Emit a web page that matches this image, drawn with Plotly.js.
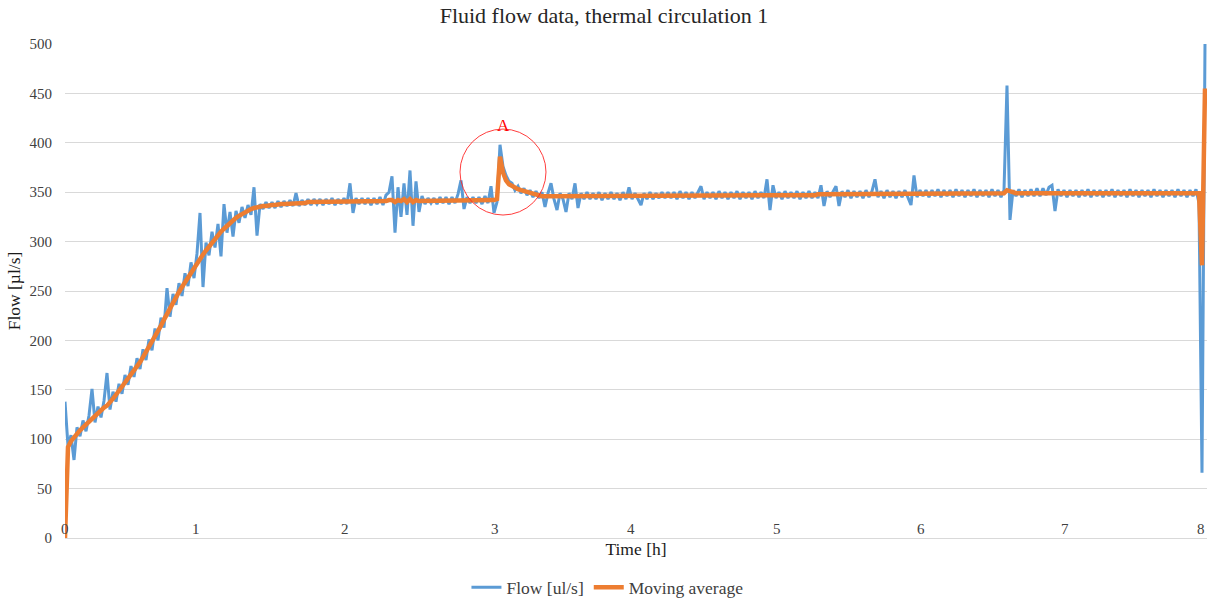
<!DOCTYPE html>
<html><head><meta charset="utf-8">
<script src="https://cdn.plot.ly/plotly-3.0.1.min.js"></script>
<style>html,body{margin:0;padding:0;background:#fff}#chart{width:1208px;height:603px}</style>
</head><body><div id="chart"></div>
<script>
// Whole-hour tick labels and the sample index at which each hour falls
const hourLabels = ['0','1','2','3','4','5','6','7','8'];
const hourSample = [0, 43.67, 93.33, 143.33, 188.67, 237.33, 285.33, 333.33, 378.67];

// Flow [ul/s], one value per sample
const flow = [
138,93,104,79,112,103,119,108,124,151,
117,133,122,139,167,130,148,138,156,146,
165,155,174,163,182,171,191,180,201,190,
212,200,223,213,253,224,247,236,258,245,
268,255,279,263,288,329,254,299,286,310,
294,318,285,338,309,330,305,331,319,335,
324,337,327,355,306,338,333,340,334,340,
334,341,335,341,336,342,336,349,336,342,
337,343,337,343,338,343,337,343,338,344,
337,343,338,344,338,359,329,344,338,344,
338,344,337,344,338,345,337,347,350,366,
309,355,325,359,327,372,316,361,330,346,
338,344,339,344,338,345,339,345,338,345,
339,348,362,333,345,339,345,339,345,338,
346,339,356,329,340,398,376,367,361,359,
352,356,349,354,347,352,345,351,344,350,
335,349,359,343,332,349,343,330,349,343,
359,334,349,343,350,343,349,343,350,342,
349,343,350,343,349,342,350,343,355,343,
349,343,337,349,343,350,343,349,344,350,
344,350,344,350,343,351,344,350,343,350,
344,350,356,343,350,344,350,343,351,344,
350,343,350,344,351,343,350,344,350,343,
351,344,350,344,363,332,357,344,350,343,
351,344,350,344,351,343,350,344,351,344,
350,344,357,336,351,345,351,356,336,351,
345,352,344,351,345,351,344,352,345,351,
363,345,351,344,352,345,351,344,351,345,
352,345,337,367,345,352,346,352,345,352,
346,353,345,352,346,352,345,353,346,352,
345,352,346,353,345,352,346,352,345,353,
346,352,345,352,458,322,352,346,353,345,
352,346,353,346,354,346,354,347,355,357,
331,353,346,352,345,352,346,352,345,352,
346,353,345,352,346,352,345,352,346,353,
345,352,346,352,345,353,346,352,345,352,
346,352,345,353,346,352,345,352,346,352,
345,353,346,352,345,352,346,353,339,66,
500
];

// Moving average, one value per sample
const movingAverage = [
0,92,98,102,106,109,112,115,118,121,
124,127,129,132,134,137,141,145,149,153,
157,162,166,170,174,178,183,188,193,198,
203,209,215,221,227,232,238,244,249,254,
259,264,269,273,278,282,287,291,295,299,
303,307,310,313,316,319,321,324,326,328,
330,331,333,334,335,335,336,336,337,337,
337,338,338,338,338,339,339,339,339,339,
339,340,340,340,340,340,340,340,340,340,
340,340,340,340,341,341,341,341,341,341,
341,341,341,341,341,341,341,341,342,342,
340,342,341,343,340,343,340,342,341,341,
341,341,341,341,341,342,342,342,342,342,
342,342,342,342,342,342,342,342,342,342,
342,342,342,342,343,386,370,362,358,356,
354,353,352,351,350,349,348,347,347,346,
346,346,346,346,346,346,346,346,346,346,
346,346,346,346,346,346,346,346,346,346,
346,346,346,346,346,346,346,346,346,346,
346,346,346,346,346,346,346,346,346,346,
347,347,347,347,347,347,347,347,347,347,
347,347,347,347,347,347,347,347,347,347,
347,347,347,347,347,347,347,347,347,347,
347,347,347,347,347,347,347,347,347,347,
347,347,347,347,347,347,347,347,347,347,
347,348,348,348,348,348,348,348,348,348,
348,348,348,348,348,348,348,348,348,348,
348,348,348,348,348,348,348,348,348,348,
348,349,349,349,349,349,349,349,349,349,
349,349,349,349,349,349,349,349,349,349,
349,349,349,349,349,349,349,349,349,349,
349,349,349,349,352,351,349,349,349,349,
349,349,349,349,349,349,349,349,349,349,
349,349,349,349,349,349,349,349,349,349,
349,349,349,349,349,349,349,349,349,349,
349,349,349,349,349,349,349,349,349,349,
349,349,349,349,349,349,349,349,349,349,
349,349,349,349,349,349,349,349,349,276,
455
];

const sampleIndex = flow.map((_, i) => i);
const serif = 'Liberation Serif, Times New Roman, serif';

const traces = [
  {x: sampleIndex, y: flow, type: 'scatter', mode: 'lines', name: 'Flow [ul/s]',
   line: {color: '#5B9BD5', width: 3}},
  {x: sampleIndex, y: movingAverage, type: 'scatter', mode: 'lines', name: 'Moving average',
   line: {color: '#ED7D31', width: 4.5}}
];

// Hour labels drawn just above the time axis, as in the original
const hourAnnotations = hourLabels.map((t, k) => ({
  xref: 'x', yref: 'paper', x: hourSample[k], y: 0, yanchor: 'bottom', yshift: -1,
  text: t, showarrow: false, font: {family: serif, size: 15, color: '#404040'}
}));

const layout = {
  width: 1208, height: 603,
  margin: {l: 65, r: 1, t: 44, b: 65, autoexpand: false},
  paper_bgcolor: '#ffffff', plot_bgcolor: '#ffffff',
  font: {family: serif, color: '#404040'},
  title: {text: 'Fluid flow data, thermal circulation 1', font: {family: serif, size: 22, color: '#262626'},
          xref: 'container', x: 0.5, xanchor: 'center', yref: 'container', y: 0.975, yanchor: 'middle'},
  xaxis: {range: [0, 380.67], showgrid: false, zeroline: false, showline: true, linecolor: '#d9d9d9', linewidth: 1,
          showticklabels: false, ticks: '', automargin: false,
          title: {text: 'Time [h]', font: {family: serif, size: 17.5, color: '#1a1a1a'}, standoff: 4},
          fixedrange: true},
  yaxis: {range: [0, 500], dtick: 50, tick0: 0, showgrid: true, gridcolor: '#d9d9d9', gridwidth: 1,
          zeroline: false, showline: false, automargin: false,
          ticks: '', ticklabelstandoff: 12, tickfont: {family: serif, size: 15, color: '#404040'},
          title: {text: 'Flow [µl/s]', font: {family: serif, size: 17.5, color: '#1a1a1a'}, standoff: 4},
          fixedrange: true},
  showlegend: true,
  legend: {orientation: 'h', xref: 'paper', x: 0.475, xanchor: 'center', yref: 'paper', y: -0.100, yanchor: 'middle',
           font: {family: serif, size: 17.5, color: '#404040'}, traceorder: 'normal'},
  shapes: [
    {type: 'circle', xref: 'x', yref: 'y', x0: 131.67, x1: 160.33, y0: 326.9, y1: 413.9,
     line: {color: 'rgba(255,40,40,0.9)', width: 1}}
  ],
  annotations: hourAnnotations.concat([
    {xref: 'x', yref: 'y', x: 146, y: 418, text: 'A', showarrow: false,
     font: {family: serif, size: 17, color: '#ff0000'}}
  ])
};

Plotly.newPlot('chart', traces, layout, {displayModeBar: false, staticPlot: true});
</script>
</body></html>
